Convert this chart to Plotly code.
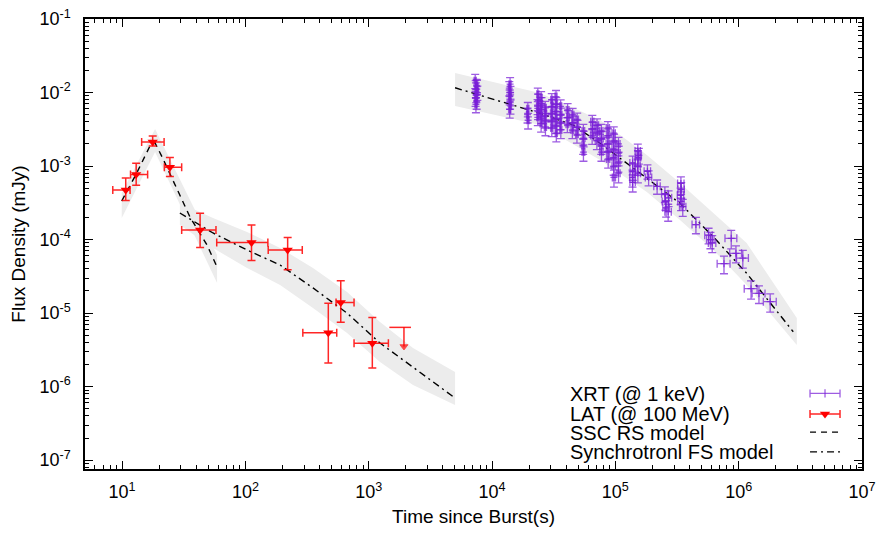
import numpy as np
import plotly.graph_objects as go

# ---------------- data ----------------
# Fermi-LAT (100 MeV) points
lat_t    = [10.7, 13.0, 17.7, 24.4, 42.9, 112, 220, 470, 593, 1069]
lat_t_lo = [8.4, 11.7, 14.4, 22.0, 30.4, 58.5, 153, 292, 543, 760]
lat_t_hi = [11.6, 16.1, 21.9, 30.4, 57.7, 152, 289, 550, 760, 1443]
lat_f    = [4.72e-4, 7.7e-4, 2.12e-3, 9.6e-4, 1.35e-4, 9.1e-5, 7.2e-5, 5.4e-6, 1.39e-5, 3.9e-6]
lat_f_lo = [3.39e-4, 5.5e-4, 1.87e-3, 7.2e-4, 7.8e-5, 5.2e-5, 3.9e-5, 2.1e-6, 7.5e-6, 1.8e-6]
lat_f_hi = [6.87e-4, 1.09e-3, 2.56e-3, 1.31e-3, 2.28e-4, 1.58e-4, 1.07e-4, 1.36e-5, 2.76e-5, 8.7e-6]

# LAT upper limit
ul_t = [1930]
ul_t_lo = [1470]
ul_t_hi = [2200]
ul_f = [6.4e-6]

# Swift-XRT (1 keV) points
xrt_t = [
    7300, 7500, 7400, 7600, 7450, 7350, 7550, 7500, 7400,
    14000, 13800, 14100, 13900, 14000, 14100, 13900,
    19500, 19400, 19600,
    23500, 23700, 23400, 23600, 23500, 25000, 25200, 24900, 25100, 25000, 27000, 27200, 26900, 27100,
    30500, 30700, 30400, 30600, 30500, 33000, 33200, 32900, 33100, 33000, 33200, 36000, 36200, 35900, 36100,
    41000, 41300, 40800, 45000, 45300, 44800, 49000, 49300, 48800,
    55000, 55300, 54800, 55100,
    65000, 65400, 64800, 71000, 71300, 70800, 77000, 77300, 76800, 77100,
    87000, 87300, 86800, 87100, 87400, 97000, 97300, 96800, 97100, 97400, 96900, 106000, 106300, 105800, 106100,
    138000, 138500, 137600, 138200, 152000, 152500, 151600, 155000, 152200,
    182000, 186000,
    218000,
    252000, 255000, 258000, 270000, 268000, 340000, 342000, 338000, 341000, 352000,
    450000,
    570000, 590000, 610000,
    760000, 870000, 950000, 1080000, 1260000, 1460000, 1800000]
xrt_f = [
    1.45e-2, 1.25e-2, 1.1e-2, 1.0e-2, 9.2e-3, 8.4e-3, 1.2e-2, 7.6e-3, 6.9e-3,
    1.3e-2, 1.15e-2, 1.0e-2, 8.8e-3, 7.6e-3, 6.6e-3, 5.9e-3,
    6.0e-3, 5.0e-3, 4.2e-3,
    9.5e-3, 7.8e-3, 6.5e-3, 5.5e-3, 4.6e-3, 8.5e-3, 7.0e-3, 5.8e-3, 4.8e-3, 3.8e-3, 6.2e-3, 5.2e-3, 4.2e-3, 3.4e-3,
    8.0e-3, 6.5e-3, 5.2e-3, 4.2e-3, 3.3e-3, 8.8e-3, 7.0e-3, 5.6e-3, 4.5e-3, 3.6e-3, 2.8e-3, 6.5e-3, 5.0e-3, 4.0e-3, 3.1e-3,
    5.8e-3, 4.6e-3, 3.7e-3, 5.0e-3, 3.9e-3, 3.1e-3, 4.3e-3, 3.4e-3, 2.7e-3,
    3.0e-3, 2.4e-3, 1.9e-3, 1.55e-3,
    4.0e-3, 3.2e-3, 2.6e-3, 3.6e-3, 2.9e-3, 2.2e-3, 3.0e-3, 2.4e-3, 1.9e-3, 1.55e-3,
    3.3e-3, 2.6e-3, 2.0e-3, 1.6e-3, 1.25e-3, 2.8e-3, 2.2e-3, 1.7e-3, 1.3e-3, 7.0e-4, 1.0e-3, 2.0e-3, 1.5e-3, 1.1e-3, 8.0e-4,
    1.1e-3, 8.5e-4, 7.0e-4, 6.0e-4, 1.6e-3, 1.3e-3, 1.0e-3, 1.4e-3, 8.0e-4,
    8.5e-4, 7.0e-4,
    5.3e-4,
    4.2e-4, 3.3e-4, 2.7e-4, 3.7e-4, 2.4e-4, 5.8e-4, 4.8e-4, 4.0e-4, 3.3e-4, 2.8e-4,
    1.6e-4,
    1.15e-4, 1.0e-4, 9.0e-5,
    4.7e-5, 1.04e-4, 6.5e-5, 5.6e-5, 2.15e-5, 1.85e-5, 1.43e-5]
# relative flux errors
xrt_ferr = [
    0.22, 0.21, 0.23, 0.22, 0.21, 0.23, 0.22, 0.22, 0.23,
    0.23, 0.22, 0.21, 0.23, 0.22, 0.23, 0.24,
    0.22, 0.23, 0.24,
    0.21, 0.22, 0.23, 0.22, 0.23, 0.21, 0.22, 0.23, 0.22, 0.24, 0.22, 0.23, 0.22, 0.24,
    0.21, 0.22, 0.23, 0.22, 0.24, 0.21, 0.22, 0.23, 0.22, 0.23, 0.24, 0.22, 0.23, 0.22, 0.24,
    0.22, 0.23, 0.23, 0.22, 0.23, 0.24, 0.22, 0.23, 0.24,
    0.23, 0.24, 0.24, 0.25,
    0.22, 0.23, 0.24, 0.22, 0.23, 0.24, 0.23, 0.23, 0.24, 0.25,
    0.22, 0.23, 0.23, 0.24, 0.25, 0.22, 0.23, 0.24, 0.25, 0.26, 0.25, 0.23, 0.24, 0.25, 0.26,
    0.24, 0.25, 0.26, 0.26, 0.24, 0.25, 0.25, 0.24, 0.26,
    0.22, 0.23,
    0.22,
    0.24, 0.24, 0.25, 0.24, 0.26, 0.23, 0.24, 0.25, 0.25, 0.26,
    0.25,
    0.24, 0.25, 0.26,
    0.27, 0.28, 0.26, 0.27, 0.28, 0.27, 0.28]
# relative time errors
xrt_terr = [
    0.02, 0.02, 0.02, 0.02, 0.02, 0.02, 0.02, 0.02, 0.02,
    0.02, 0.02, 0.02, 0.02, 0.02, 0.02, 0.02,
    0.02, 0.02, 0.02,
    0.02, 0.02, 0.02, 0.02, 0.02, 0.02, 0.02, 0.02, 0.02, 0.02, 0.02, 0.02, 0.02, 0.02,
    0.02, 0.02, 0.02, 0.02, 0.02, 0.02, 0.02, 0.02, 0.02, 0.02, 0.02, 0.02, 0.02, 0.02, 0.02,
    0.025, 0.025, 0.025, 0.025, 0.025, 0.025, 0.025, 0.025, 0.025,
    0.025, 0.025, 0.025, 0.025,
    0.03, 0.03, 0.03, 0.03, 0.03, 0.03, 0.03, 0.03, 0.03, 0.03,
    0.03, 0.03, 0.03, 0.03, 0.03, 0.03, 0.03, 0.03, 0.03, 0.03, 0.03, 0.03, 0.03, 0.03, 0.03,
    0.05, 0.05, 0.05, 0.05, 0.05, 0.05, 0.05, 0.05, 0.05,
    0.06, 0.06,
    0.06,
    0.06, 0.06, 0.06, 0.06, 0.06, 0.06, 0.06, 0.06, 0.06, 0.06,
    0.07,
    0.07, 0.07, 0.07,
    0.12, 0.11, 0.11, 0.11, 0.12, 0.12, 0.12]

# SSC reverse-shock model (early LAT)
ssc_t = [9.93, 13.1, 16.8, 18.5, 21.1, 28.4, 35.5, 48.8, 58.9]
ssc_f = [3.35e-4, 7.98e-4, 1.87e-3, 2.06e-3, 1.33e-3, 4.44e-4, 2.03e-4, 8.44e-5, 4.24e-5]
ssc_band_t = [9.93, 18.5, 58.9]
ssc_band_hi = [4.31e-4, 3.19e-3, 6.17e-5]
ssc_band_lo = [1.97e-4, 1.55e-3, 2.57e-5]

# synchrotron forward-shock model (LAT)
fsl_t = [29.4, 54.6, 103, 191, 353, 667, 1234, 2285, 5012]
fsl_f = [2.30e-4, 1.23e-4, 7.21e-5, 4.51e-5, 2.20e-5, 1.00e-5, 3.92e-6, 1.85e-6, 7.0e-7]
fsl_band_hi = [3.15e-4, 1.97e-4, 1.27e-4, 7.69e-5, 4.11e-5, 1.94e-5, 7.57e-6, 3.36e-6, 1.58e-6]
fsl_band_lo = [1.58e-4, 7.69e-5, 4.11e-5, 2.41e-5, 1.17e-5, 5.37e-6, 2.16e-6, 1.05e-6, 5.62e-7]

# synchrotron forward-shock model (XRT)
fsx_t = [5012, 1.445e4, 2.45e4, 4.56e4, 7.52e4, 1.80e5, 3.34e5, 6.23e5, 1.16e6, 2.77e6]
fsx_f = [1.16e-2, 6.76e-3, 5.22e-3, 3.61e-3, 2.04e-3, 6.82e-4, 3.12e-4, 1.09e-4, 3.48e-5, 5.58e-6]
fsx_band_t = [5012, 2.45e4, 7.52e4, 1.80e5, 3.34e5, 6.23e5, 1.16e6, 2.96e6]
fsx_band_hi = [1.84e-2, 9.86e-3, 4.23e-3, 1.41e-3, 5.89e-4, 2.30e-4, 8.99e-5, 8.59e-6]
fsx_band_lo = [6.56e-3, 3.62e-3, 1.21e-3, 4.44e-4, 1.85e-4, 7.21e-5, 2.41e-5, 3.68e-6]

x_ticks = [10, 100, 1e3, 1e4, 1e5, 1e6, 1e7]
x_ticktext = ['10<sup>1</sup>', '10<sup>2</sup>', '10<sup>3</sup>', '10<sup>4</sup>',
              '10<sup>5</sup>', '10<sup>6</sup>', '10<sup>7</sup>']
y_ticks = [1e-7, 1e-6, 1e-5, 1e-4, 1e-3, 1e-2, 1e-1]
y_ticktext = ['10<sup>-7</sup>', '10<sup>-6</sup>', '10<sup>-5</sup>', '10<sup>-4</sup>',
              '10<sup>-3</sup>', '10<sup>-2</sup>', '10<sup>-1</sup>']

legend_labels = ['XRT (@ 1 keV)', 'LAT (@ 100 MeV)', 'SSC RS model', 'Synchrotronl FS model']

# ---------------- style ----------------
FONT = 'Liberation Sans, Arial, Helvetica, sans-serif'
BAND = 'rgb(236,236,236)'
XRT_C = 'rgba(120,30,215,0.72)'
LAT_C = 'rgba(255,0,0,0.85)'
DASH = '6px,5px'
DASHDOT = '7px,4px,2px,4px'
ARROW = 0.55

fig = go.Figure()


def add_band(t, lo, hi):
    fig.add_trace(go.Scatter(
        x=list(t) + list(t)[::-1], y=list(hi) + list(lo)[::-1],
        fill='toself', fillcolor=BAND, mode='lines', line=dict(width=0),
        hoverinfo='skip', showlegend=False))


add_band(ssc_band_t, ssc_band_lo, ssc_band_hi)
add_band(fsl_t, fsl_band_lo, fsl_band_hi)
add_band(fsx_band_t, fsx_band_lo, fsx_band_hi)

fig.add_trace(go.Scatter(x=ssc_t, y=ssc_f, mode='lines',
                         line=dict(color='black', width=1.4, dash=DASH), showlegend=False))
fig.add_trace(go.Scatter(x=fsl_t, y=fsl_f, mode='lines',
                         line=dict(color='black', width=1.4, dash=DASHDOT), showlegend=False))
fig.add_trace(go.Scatter(x=fsx_t, y=fsx_f, mode='lines',
                         line=dict(color='black', width=1.4, dash=DASHDOT), showlegend=False))

# XRT
xt = np.array(xrt_t, float)
xf = np.array(xrt_f, float)
fe = np.array(xrt_ferr) * xf
te = np.array(xrt_terr) * xt
fig.add_trace(go.Scatter(
    x=xt, y=xf, mode='markers',
    marker=dict(symbol='cross-thin-open', size=5, color=XRT_C, line=dict(color=XRT_C, width=1.3)),
    error_y=dict(type='data', array=fe, arrayminus=fe, color=XRT_C, thickness=1.3, width=4),
    error_x=dict(type='data', array=te, arrayminus=te, color=XRT_C, thickness=1.3, width=4),
    showlegend=False))

# LAT
lt = np.array(lat_t)
lf = np.array(lat_f)
fig.add_trace(go.Scatter(
    x=lt, y=lf, mode='markers',
    marker=dict(symbol='triangle-down', size=9, color='rgb(255,0,0)', line=dict(width=0)),
    error_y=dict(type='data', array=np.array(lat_f_hi) - lf, arrayminus=lf - np.array(lat_f_lo),
                 color=LAT_C, thickness=1.5, width=4),
    error_x=dict(type='data', array=np.array(lat_t_hi) - lt, arrayminus=lt - np.array(lat_t_lo),
                 color=LAT_C, thickness=1.5, width=4),
    showlegend=False))

# LAT upper limit
fig.add_trace(go.Scatter(x=[ul_t_lo[0], ul_t_hi[0]], y=[ul_f[0], ul_f[0]], mode='lines',
                         line=dict(color=LAT_C, width=1.5), showlegend=False))
fig.add_trace(go.Scatter(x=[ul_t[0], ul_t[0]], y=[ul_f[0], ul_f[0] * ARROW], mode='lines+markers',
                         line=dict(color=LAT_C, width=1.5),
                         marker=dict(symbol='triangle-down', size=[0, 7], color='rgb(255,0,0)'),
                         showlegend=False))

# ---------------- legend (overlay axes in [0,1]) ----------------
leg_y = [0.168, 0.122, 0.082, 0.038]
leg_text_y = [0.1656, 0.1218, 0.0793, 0.0373]
sx0, sx1, sxc = 0.9331, 0.9717, 0.9524
fig.add_trace(go.Scatter(x=[sxc], y=[leg_y[0]], xaxis='x2', yaxis='y2', mode='markers',
                         marker=dict(symbol='line-ns-open', size=6, color=XRT_C, line=dict(color=XRT_C, width=1.3)),
                         error_x=dict(type='constant', value=sx1 - sxc, color=XRT_C, thickness=1.3, width=4),
                         showlegend=False, hoverinfo='skip'))
fig.add_trace(go.Scatter(x=[sxc], y=[leg_y[1]], xaxis='x2', yaxis='y2', mode='markers',
                         marker=dict(symbol='triangle-down', size=9, color='rgb(255,0,0)'),
                         error_x=dict(type='constant', value=sx1 - sxc, color=LAT_C, thickness=1.5, width=4),
                         showlegend=False, hoverinfo='skip'))
fig.add_trace(go.Scatter(x=[sx0, sx1], y=[leg_y[2], leg_y[2]], xaxis='x2', yaxis='y2', mode='lines',
                         line=dict(color='black', width=1.4, dash=DASH), showlegend=False, hoverinfo='skip'))
fig.add_trace(go.Scatter(x=[sx0, sx1], y=[leg_y[3], leg_y[3]], xaxis='x2', yaxis='y2', mode='lines',
                         line=dict(color='black', width=1.4, dash=DASHDOT), showlegend=False, hoverinfo='skip'))

annotations = []
for lab, yy in zip(legend_labels, leg_text_y):
    annotations.append(dict(text=lab, xref='paper', yref='paper', x=0.6216, y=yy,
                            xanchor='left', yanchor='middle', showarrow=False,
                            font=dict(family=FONT, size=20, color='black')))

axis_common = dict(
    type='log', showgrid=False, zeroline=False, showline=True, linecolor='black', linewidth=1.5,
    mirror='allticks', ticks='inside', ticklen=8, tickwidth=1, tickcolor='black', automargin=False,
    tickfont=dict(family=FONT, size=18, color='black'),
    minor=dict(ticks='inside', ticklen=4, tickwidth=1, tickcolor='black', dtick='D1', showgrid=False),
)

fig.update_layout(
    width=876, height=533,
    margin=dict(l=85, r=14, t=19, b=64),
    paper_bgcolor='white', plot_bgcolor='white',
    font=dict(family=FONT, size=18, color='black'),
    xaxis=dict(axis_common, range=[np.log10(5), 7], tickmode='array', tickvals=x_ticks, ticktext=x_ticktext,
               ticklabelstandoff=6,
               title=dict(text='Time since Burst(s)', font=dict(family=FONT, size=19), standoff=8)),
    yaxis=dict(axis_common, range=[-7.12, -1], tickmode='array', tickvals=y_ticks, ticktext=y_ticktext,
               ticklabelstandoff=9,
               title=dict(text='Flux Density (mJy)', font=dict(family=FONT, size=19), standoff=9)),
    xaxis2=dict(overlaying='x', anchor='y2', range=[0, 1], visible=False),
    yaxis2=dict(overlaying='y', anchor='x2', range=[0, 1], visible=False),
    annotations=annotations,
    showlegend=False,
)

fig.write_html('out.html')
